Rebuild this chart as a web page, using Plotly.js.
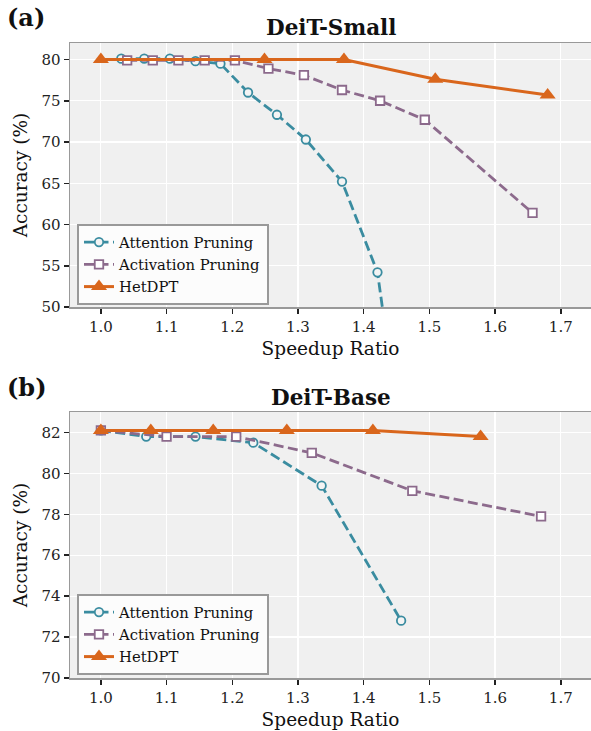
<!DOCTYPE html>
<html>
<head>
<meta charset="utf-8">
<script src="https://cdn.plot.ly/plotly-3.0.1.min.js"></script>
<style>html,body{margin:0;padding:0;background:#fff;}#chart{width:591px;height:731px;}</style>
</head>
<body>
<div id="chart"></div>
<script>
// ---- Data: DeiT-Small (a) ----
const smallAttnX = [1.031, 1.066, 1.105, 1.144, 1.182, 1.224, 1.268, 1.312, 1.367, 1.421, 1.446];
const smallAttnY = [80.1, 80.1, 80.1, 79.8, 79.5, 76.0, 73.3, 70.3, 65.2, 54.2, 40.0];
const smallActX = [1.040, 1.079, 1.118, 1.158, 1.204, 1.255, 1.309, 1.367, 1.425, 1.493, 1.657];
const smallActY = [79.9, 79.9, 79.9, 79.9, 79.9, 78.9, 78.1, 76.3, 75.0, 72.7, 61.4];
const smallHetX = [1.0, 1.249, 1.370, 1.509, 1.680];
const smallHetY = [80.0, 80.0, 80.0, 77.6, 75.7];

// ---- Data: DeiT-Base (b) ----
const baseAttnX = [1.0, 1.069, 1.144, 1.232, 1.336, 1.457];
const baseAttnY = [82.1, 81.8, 81.8, 81.5, 79.4, 72.8];
const baseActX = [1.0, 1.100, 1.206, 1.321, 1.474, 1.670];
const baseActY = [82.1, 81.8, 81.8, 81.0, 79.15, 77.9];
const baseHetX = [1.0, 1.076, 1.171, 1.283, 1.414, 1.578];
const baseHetY = [82.1, 82.1, 82.1, 82.1, 82.1, 81.8];

const seriesNames = ["Attention Pruning", "Activation Pruning", "HetDPT"];
const xTicks = [1.0, 1.1, 1.2, 1.3, 1.4, 1.5, 1.6, 1.7];
const smallYTicks = [50, 55, 60, 65, 70, 75, 80];
const baseYTicks = [70, 72, 74, 76, 78, 80, 82];
const panelTitles = ["DeiT-Small", "DeiT-Base"];
const panelLabels = ["(a)", "(b)"];

const cAttn = "#3a8ca0", cAct = "#8c6a8c", cHet = "#d9661c";
const FONT = "DejaVu Serif, serif";

function traces(ax, ay, bx, by, hx, hy, xa, ya, leg) {
  return [
    {x: ax, y: ay, xaxis: xa, yaxis: ya, legend: leg, name: seriesNames[0], mode: "lines+markers",
     line: {color: cAttn, width: 2.8, dash: "10px,4.5px"},
     marker: {symbol: "circle", size: 8.5, color: "#f4f4f4", line: {color: cAttn, width: 1.8}}},
    {x: bx, y: by, xaxis: xa, yaxis: ya, legend: leg, name: seriesNames[1], mode: "lines+markers",
     line: {color: cAct, width: 2.8, dash: "10px,4.5px"},
     marker: {symbol: "square", size: 8.5, color: "#ffffff", line: {color: cAct, width: 1.8}}},
    {x: hx, y: hy, xaxis: xa, yaxis: ya, legend: leg, name: seriesNames[2], mode: "lines+markers",
     line: {color: cHet, width: 3},
     marker: {symbol: "triangle-up", size: 14, color: cHet}}
  ];
}

const data = [
  ...traces(smallAttnX, smallAttnY, smallActX, smallActY, smallHetX, smallHetY, "x", "y", "legend"),
  ...traces(baseAttnX, baseAttnY, baseActX, baseActY, baseHetX, baseHetY, "x2", "y2", "legend2")
];

const W = 591, H = 731;
const xDom = [70 / W, 1];
const dom1 = [1 - 307 / H, 1 - 43 / H];
const dom2 = [1 - 678 / H, 1 - 412 / H];

function xAxis(dom, anchor) {
  return {domain: xDom, anchor: anchor, range: [0.953, 1.746], tickvals: xTicks,
    ticktext: xTicks.map(v => v.toFixed(1)),
    showgrid: true, gridcolor: "#ffffff", gridwidth: 1.2, zeroline: false,
    showline: true, linecolor: "#999999", linewidth: 1.5, mirror: true,
    ticks: "outside", ticklen: 5, tickwidth: 1.5, tickcolor: "#222",
    tickfont: {family: FONT, size: 15, color: "#222"},
    title: {text: "Speedup Ratio", font: {family: FONT, size: 18.5, color: "#111"}, standoff: 7}};
}
function yAxis(dom, anchor, range, ticks) {
  return {domain: dom, anchor: anchor, range: range, tickvals: ticks,
    showgrid: true, gridcolor: "#ffffff", gridwidth: 1.2, zeroline: false,
    showline: true, linecolor: "#999999", linewidth: 1.5, mirror: true,
    ticks: "outside", ticklen: 5, tickwidth: 1.5, tickcolor: "#222",
    tickfont: {family: FONT, size: 15, color: "#222"},
    title: {text: "Accuracy (%)", font: {family: FONT, size: 18.5, color: "#111"}, standoff: 9}};
}

const legendStyle = (y) => ({x: 77 / W, y: y, xanchor: "left", yanchor: "top",
  bgcolor: "rgba(252,252,252,0.95)", bordercolor: "#999999", borderwidth: 2,
  font: {family: FONT, size: 14.8, color: "#111"}, tracegroupgap: 0, itemwidth: 30});

const layout = {
  width: W, height: H,
  margin: {l: 0, r: 0, t: 0, b: 0},
  paper_bgcolor: "#ffffff", plot_bgcolor: "#f0f0f0",
  showlegend: true,
  xaxis: xAxis(dom1, "y"),
  yaxis: yAxis(dom1, "x", [50, 82], smallYTicks),
  xaxis2: xAxis(dom2, "y2"),
  yaxis2: yAxis(dom2, "x2", [70, 83], baseYTicks),
  legend: legendStyle(1 - 224 / H),
  legend2: legendStyle(1 - 594 / H),
  annotations: [
    {text: "<b>" + panelTitles[0] + "</b>", x: (70 + 591) / 2 / W, y: 1 - 27 / H, xref: "paper", yref: "paper",
     showarrow: false, font: {family: FONT, size: 21.5, color: "#111"}, xanchor: "center", yanchor: "middle"},
    {text: "<b>" + panelTitles[1] + "</b>", x: (70 + 591) / 2 / W, y: 1 - 397 / H, xref: "paper", yref: "paper",
     showarrow: false, font: {family: FONT, size: 21.5, color: "#111"}, xanchor: "center", yanchor: "middle"},
    {text: "<b>" + panelLabels[0] + "</b>", x: 5 / W, y: 1 - 17 / H, xref: "paper", yref: "paper",
     showarrow: false, font: {family: FONT, size: 24, color: "#111"}, xanchor: "left", yanchor: "middle"},
    {text: "<b>" + panelLabels[1] + "</b>", x: 5 / W, y: 1 - 387 / H, xref: "paper", yref: "paper",
     showarrow: false, font: {family: FONT, size: 24, color: "#111"}, xanchor: "left", yanchor: "middle"}
  ]
};

Plotly.newPlot("chart", data, layout, {staticPlot: true, displayModeBar: false});
</script>
</body>
</html>
